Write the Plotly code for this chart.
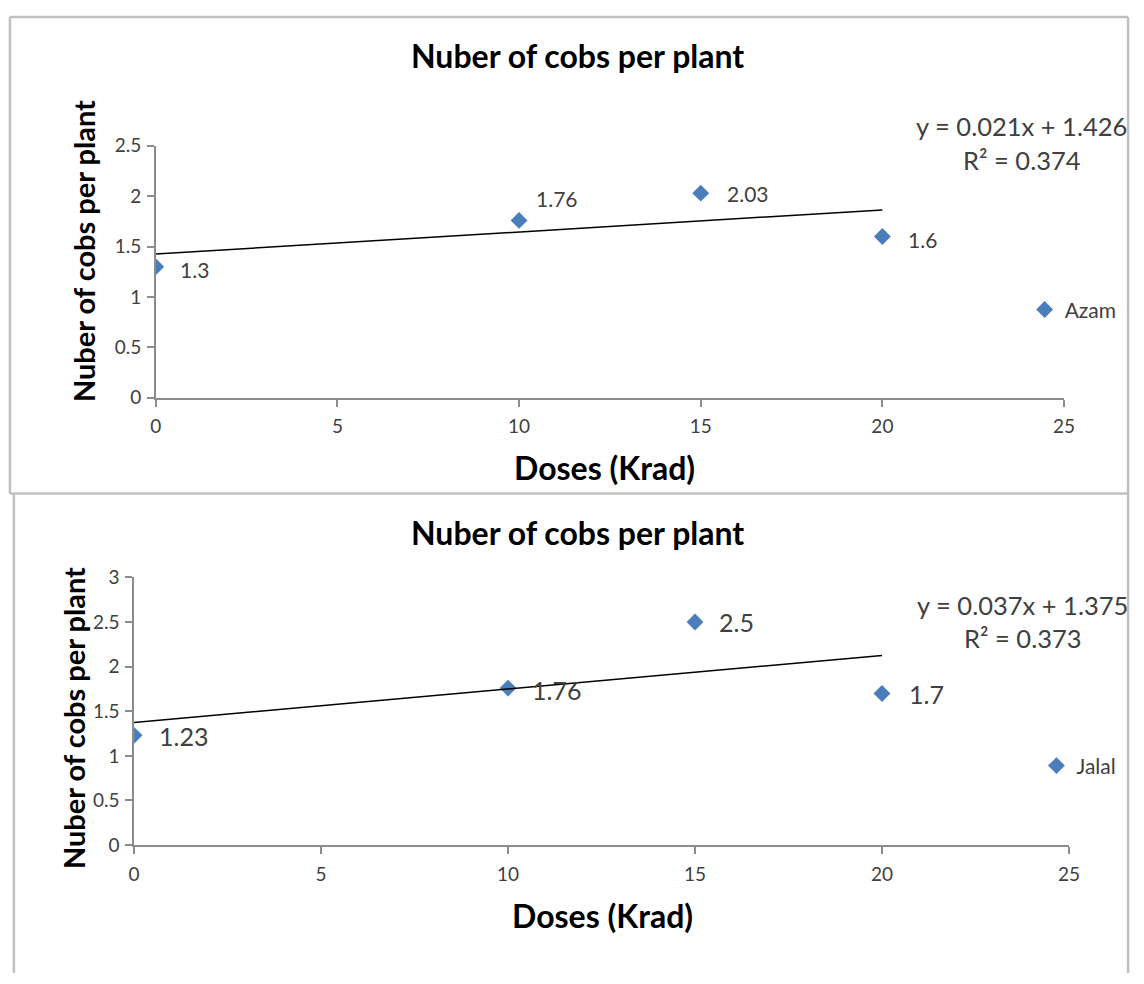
import plotly.graph_objects as go

W, H = 1144, 984

# ---- data ----
doses = [0, 10, 15, 20]
azam_cobs = [1.3, 1.76, 2.03, 1.6]
jalal_cobs = [1.23, 1.76, 2.5, 1.7]
azam_labels = ["1.3", "1.76", "2.03", "1.6"]
jalal_labels = ["1.23", "1.76", "2.5", "1.7"]
azam_trend = (0.021, 1.426, 0.374)   # slope, intercept, R2 (as printed)
jalal_trend = (0.037, 1.375, 0.373)
azam_trend_coef = (0.02189, 1.426)   # least-squares fit used for the drawn line
jalal_trend_coef = (0.03754, 1.375)
x_ticks = [0, 5, 10, 15, 20, 25]
azam_y_ticks = [0, 0.5, 1, 1.5, 2, 2.5]
jalal_y_ticks = [0, 0.5, 1, 1.5, 2, 2.5, 3]
chart_title = "Nuber of cobs per plant"
x_title = "Doses (Krad)"
y_title = "Nuber of cobs per plant"

FONT = "Lato"
MARK = "#4A7EBB"
AX = "#8C8C8C"
TXT = "#404040"

def px(x):
    return x / W

def py(y):
    return 1 - y / H

fig = go.Figure()

# top panel
fig.add_trace(go.Scatter(x=doses, y=azam_cobs, mode="markers", name="Azam",
                         marker=dict(symbol="diamond", size=13, color=MARK),
                         xaxis="x", yaxis="y", legend="legend"))
fig.add_trace(go.Scatter(x=[0, 20],
                         y=[azam_trend_coef[1], azam_trend_coef[1] + azam_trend_coef[0] * 20],
                         mode="lines", line=dict(color="black", width=1.5),
                         showlegend=False, xaxis="x", yaxis="y", hoverinfo="skip"))
# bottom panel
fig.add_trace(go.Scatter(x=doses, y=jalal_cobs, mode="markers", name="Jalal",
                         marker=dict(symbol="diamond", size=13, color=MARK),
                         xaxis="x2", yaxis="y2", legend="legend2"))
fig.add_trace(go.Scatter(x=[0, 20],
                         y=[jalal_trend_coef[1], jalal_trend_coef[1] + jalal_trend_coef[0] * 20],
                         mode="lines", line=dict(color="black", width=1.5),
                         showlegend=False, xaxis="x2", yaxis="y2", hoverinfo="skip"))

axis_common = dict(showgrid=False, zeroline=False, showline=True, linecolor=AX, linewidth=1.5,
                   ticks="outside", tickcolor=AX, ticklen=7, tickwidth=1.5,
                   tickfont=dict(family=FONT, size=19, color=TXT))

fig.update_layout(
    width=W, height=H, margin=dict(l=0, r=0, t=0, b=0),
    paper_bgcolor="white", plot_bgcolor="white",
    xaxis=dict(domain=[px(152), px(1074)], range=[0, 25], tickvals=x_ticks,
               anchor="y", ticklabelstandoff=4, **axis_common),
    yaxis=dict(domain=[py(395), py(137)], range=[0, 2.5], tickvals=azam_y_ticks,
               anchor="x", ticklabelstandoff=2, **axis_common),
    xaxis2=dict(domain=[px(130), px(1079)], range=[0, 25], tickvals=x_ticks,
                anchor="y2", ticklabelstandoff=4, **axis_common),
    yaxis2=dict(domain=[py(853), py(579)], range=[0, 3], tickvals=jalal_y_ticks,
                anchor="x2", ticklabelstandoff=2, **axis_common),
    legend=dict(x=px(1034), y=py(305), xanchor="left", yanchor="middle",
                font=dict(family=FONT, size=21, color=TXT), bgcolor="rgba(0,0,0,0)",
                itemwidth=30),
    legend2=dict(x=px(1046), y=py(772), xanchor="left", yanchor="middle",
                 font=dict(family=FONT, size=21, color=TXT), bgcolor="rgba(0,0,0,0)",
                 itemwidth=30),
    showlegend=True,
)

ann = []
# titles
for (cx, cy) in [(580, 45), (580, 533)]:
    ann.append(dict(text="<b>%s</b>" % chart_title, x=px(cx), y=py(cy), xref="paper", yref="paper",
                    showarrow=False, font=dict(family=FONT, size=32, color="black"),
                    xanchor="center", yanchor="middle"))
for (cx, cy) in [(608, 466), (605, 925)]:
    ann.append(dict(text="<b>%s</b>" % x_title, x=px(cx), y=py(cy), xref="paper", yref="paper",
                    showarrow=False, font=dict(family=FONT, size=32, color="black"),
                    xanchor="center", yanchor="middle"))
for (cx, cy) in [(78, 245), (68, 723)]:
    ann.append(dict(text="<b>%s</b>" % y_title, x=px(cx), y=py(cy), xref="paper", yref="paper",
                    showarrow=False, textangle=-90, font=dict(family=FONT, size=29, color="black"),
                    xanchor="center", yanchor="middle"))

# data labels
top_shift = [(22, -3), (15, 22), (24, 0), (24, -3)]
for xv, yv, lab, (dx, dy) in zip(doses, azam_cobs, azam_labels, top_shift):
    ann.append(dict(text=lab, x=xv, y=yv, xref="x", yref="y", showarrow=False,
                    xanchor="left", yanchor="middle", xshift=dx, yshift=dy,
                    font=dict(family=FONT, size=21, color=TXT)))
bot_shift = [(23, -1), (22, -2), (22, 0), (25, -1)]
for xv, yv, lab, (dx, dy) in zip(doses, jalal_cobs, jalal_labels, bot_shift):
    ann.append(dict(text=lab, x=xv, y=yv, xref="x2", yref="y2", showarrow=False,
                    xanchor="left", yanchor="middle", xshift=dx, yshift=dy,
                    font=dict(family=FONT, size=25, color=TXT)))

# trendline equations
for (slope, icpt, r2), (cx, y1, y2) in [(azam_trend, (1031, 117, 152)), (jalal_trend, (1032, 607, 641))]:
    ann.append(dict(text="y = %.3fx + %.3f" % (slope, icpt), x=px(cx), y=py(y1), xref="paper",
                    yref="paper", showarrow=False, xanchor="center", yanchor="middle",
                    font=dict(family=FONT, size=25.5, color=TXT)))
    ann.append(dict(text="R² = %.3f" % r2, x=px(cx), y=py(y2), xref="paper",
                    yref="paper", showarrow=False, xanchor="center", yanchor="middle",
                    font=dict(family=FONT, size=25.5, color=TXT)))

fig.update_layout(annotations=ann)

# frame lines
BC = "#C0C0C0"
shapes = [
    dict(type="line", x0=px(4), x1=px(1139), y0=py(5), y1=py(5)),
    dict(type="line", x0=px(4), x1=px(4), y0=py(5), y1=py(493)),
    dict(type="line", x0=px(1139), x1=px(1139), y0=py(5), y1=py(984)),
    dict(type="line", x0=px(4), x1=px(1139), y0=py(493), y1=py(493)),
    dict(type="line", x0=px(8), x1=px(8), y0=py(493), y1=py(984)),
]
for s in shapes:
    s.update(xref="paper", yref="paper", line=dict(color=BC, width=2.5))
fig.update_layout(shapes=shapes)

fig.write_html("out.html")
